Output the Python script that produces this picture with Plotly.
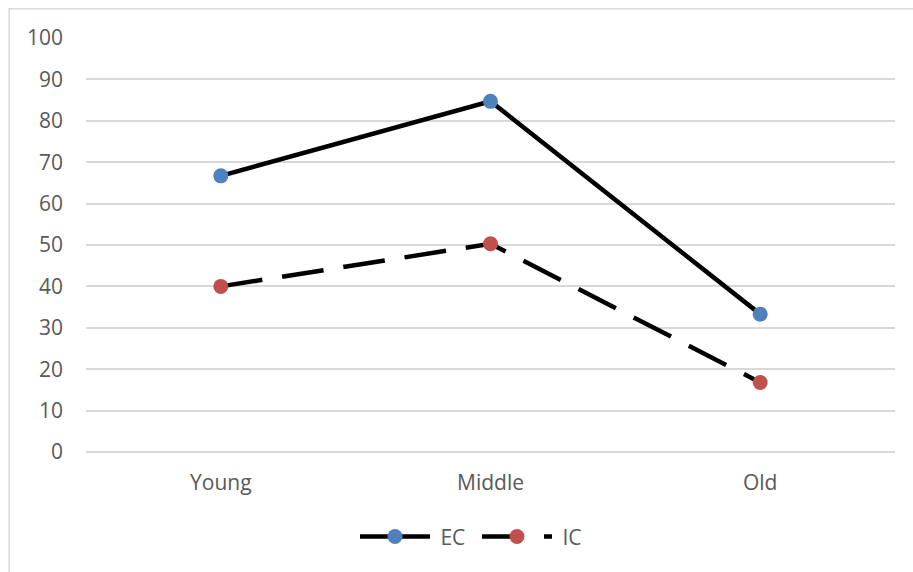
import plotly.graph_objects as go

# Age groups and the two measures plotted across them
categories = ["Young", "Middle", "Old"]
ec_values = [66.7, 84.7, 33.3]
ic_values = [40.0, 50.3, 16.8]
y_ticks = [0, 10, 20, 30, 40, 50, 60, 70, 80, 90, 100]

text_color = "#595959"
grid_color = "#d9d9d9"
font_family = "Open Sans, Lato, sans-serif"
font_size = 21

fig = go.Figure()

fig.add_trace(go.Scatter(
    x=categories, y=ec_values, name=" EC", mode="lines+markers",
    line=dict(color="black", width=4.5),
    marker=dict(color="#4f81bd", size=15),
))
fig.add_trace(go.Scatter(
    x=categories, y=ic_values, name=" IC", mode="lines+markers",
    line=dict(color="black", width=4.5, dash="42px,20px"),
    marker=dict(color="#c0504d", size=15),
))

fig.update_layout(
    width=913, height=572,
    margin=dict(l=86, r=18, t=38, b=120),
    paper_bgcolor="white", plot_bgcolor="white",
    font=dict(family=font_family, size=font_size, color=text_color),
    showlegend=True,
    legend=dict(
        orientation="h", x=0.3325, xanchor="left", y=-0.205, yanchor="middle",
        itemwidth=70, entrywidth=37, font=dict(size=font_size, color=text_color),
    ),
    xaxis=dict(
        range=[-0.5, 2.5],
        showgrid=False, showline=False, zeroline=False, ticks="",
        tickfont=dict(size=font_size, color=text_color), ticklabelstandoff=16,
    ),
    yaxis=dict(
        range=[0, 100], tickvals=y_ticks, showgrid=True, gridcolor=grid_color,
        gridwidth=1.5, zeroline=True, zerolinecolor=grid_color, zerolinewidth=1.5,
        showline=False, ticks="", ticklabelstandoff=22,
        tickfont=dict(size=font_size, color=text_color),
    ),
    shapes=[dict(
        type="rect", xref="paper", yref="paper",
        x0=-0.095, x1=1.2, y0=-0.6, y1=1.0705,
        line=dict(color=grid_color, width=1.5), layer="below",
    )],
)

fig.write_html("out.html")
